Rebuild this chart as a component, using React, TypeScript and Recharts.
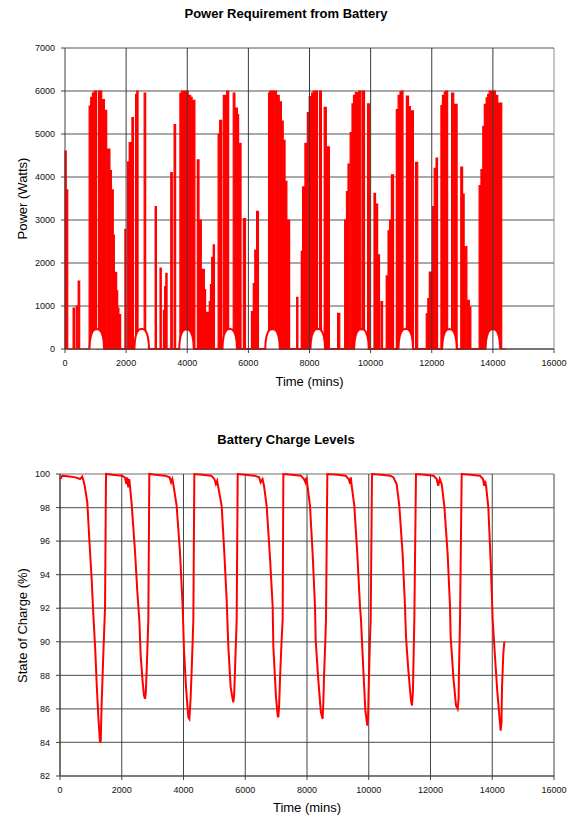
import React from 'react';
import { ComposedChart, Area, Line, XAxis, YAxis, CartesianGrid, ReferenceLine } from 'recharts';

const timeTicks = [0, 2000, 4000, 6000, 8000, 10000, 12000, 14000, 16000];
const powerTicks = [0, 1000, 2000, 3000, 4000, 5000, 6000, 7000];
const socTicks = [82, 84, 86, 88, 90, 92, 94, 96, 98, 100];

// battery draw blocks: [start minute, end minute, watts]
const spikeBlocks: [number, number, number][] = [
  [0, 40, 4600], [40, 90, 3700],
  [265, 310, 950], [365, 415, 1000], [430, 480, 1580],
  [790, 840, 5650], [840, 895, 5850], [895, 955, 5950], [955, 1035, 6000], [1100, 1200, 6000], [1205, 1290, 5800], [1295, 1365, 5550], [1395, 1470, 4650], [1470, 1520, 4150], [1525, 1580, 3700], [1580, 1615, 2650], [1615, 1690, 1780], [1690, 1725, 1350], [1725, 1765, 950], [1765, 1820, 800],
  [1960, 1990, 2780],
  [2050, 2100, 4350], [2100, 2170, 4800], [2190, 2240, 5380], [2310, 2350, 5920], [2350, 2390, 6000], [2590, 2640, 5950],
  [2950, 2990, 3310], [3110, 3150, 1880], [3220, 3250, 900], [3260, 3300, 1450], [3300, 3340, 1760], [3460, 3510, 4100], [3570, 3620, 5220],
  [3760, 3820, 5950], [3820, 3900, 6000], [3920, 4030, 6000], [4040, 4110, 5900], [4110, 4160, 5850], [4160, 4250, 5780],
  [4330, 4385, 4400], [4410, 4460, 3000], [4470, 4560, 1850], [4560, 4600, 1380], [4630, 4720, 850], [4720, 4760, 1100], [4760, 4800, 1500], [4800, 4850, 2130], [4850, 4890, 2420],
  [5010, 5060, 5000], [5060, 5125, 5320], [5180, 5265, 5900], [5290, 5355, 6000], [5505, 5560, 5950], [5590, 5640, 5600], [5640, 5680, 5450], [5705, 5760, 4780], [5835, 5905, 3030],
  [6100, 6160, 870], [6160, 6210, 1520], [6210, 6270, 2300], [6270, 6330, 3200],
  [6660, 6700, 5950], [6700, 6760, 6000], [6770, 6840, 6000], [6845, 6920, 6000], [6920, 7010, 5900], [7010, 7080, 5750], [7080, 7140, 5300], [7140, 7200, 4850], [7200, 7260, 3900], [7260, 7350, 3000],
  [7580, 7620, 1200], [7730, 7770, 2270],
  [7775, 7850, 3770], [7850, 7930, 4780], [7930, 7990, 5500], [7990, 8070, 5870], [8070, 8120, 5950], [8120, 8190, 6000], [8200, 8260, 6000], [8330, 8390, 6000], [8480, 8550, 5620], [8590, 8650, 4700],
  [8920, 8990, 830],
  [9150, 9210, 3000], [9210, 9260, 3660], [9260, 9320, 4300], [9330, 9390, 5030], [9390, 9440, 5700], [9440, 9500, 5900], [9500, 9590, 5960], [9610, 9680, 6000], [9730, 9800, 6000], [9900, 9970, 5700],
  [10110, 10160, 3620], [10160, 10230, 3370], [10230, 10290, 2190], [10340, 10390, 1100],
  [10510, 10570, 1700], [10570, 10620, 2750], [10620, 10680, 3000], [10680, 10750, 4050], [10840, 10900, 5570], [10900, 10960, 5900], [10960, 11000, 5975], [11000, 11060, 6000], [11170, 11240, 5880], [11240, 11300, 5640], [11340, 11400, 5540], [11470, 11540, 4340],
  [11820, 11870, 820], [11870, 11920, 1170], [11920, 12030, 1790], [12030, 12080, 3310], [12080, 12140, 4200], [12140, 12190, 4440], [12300, 12350, 5660], [12350, 12410, 5900], [12410, 12460, 5975], [12460, 12520, 6000], [12650, 12720, 5950], [12760, 12830, 5690], [12950, 13010, 4230], [13010, 13060, 3600], [13090, 13150, 2380], [13180, 13230, 1130], [13230, 13280, 975],
  [13550, 13610, 3800], [13610, 13670, 4170], [13670, 13720, 5180], [13720, 13780, 5690], [13780, 13830, 5840], [13830, 13880, 5920], [13880, 13960, 6000], [13970, 14080, 6000], [14080, 14160, 5900], [14160, 14290, 5720],
];
const powerEndMinute = 14430;

// daytime hump arcs (minutes / watts)
const arcTimes: number[][] = [
  [800, 815, 845, 890, 950, 1040, 1130, 1190, 1235, 1265, 1280],
  [2270, 2285, 2315, 2360, 2420, 2510, 2600, 2660, 2705, 2735, 2750],
  [3735, 3750, 3780, 3825, 3885, 3975, 4065, 4125, 4170, 4200, 4215],
  [5150, 5165, 5195, 5240, 5300, 5390, 5480, 5540, 5585, 5615, 5630],
  [6550, 6565, 6595, 6640, 6700, 6790, 6880, 6940, 6985, 7015, 7030],
  [8030, 8045, 8075, 8120, 8180, 8270, 8360, 8420, 8465, 8495, 8510],
  [9460, 9475, 9505, 9550, 9610, 9700, 9790, 9850, 9895, 9925, 9940],
  [10910, 10925, 10955, 11000, 11060, 11150, 11240, 11300, 11345, 11375, 11390],
  [12340, 12355, 12385, 12430, 12490, 12580, 12670, 12730, 12775, 12805, 12820],
  [13760, 13775, 13805, 13850, 13910, 14000, 14090, 14150, 14195, 14225, 14240],
];
const arcWatts: number[][] = [
  [0, 170, 300, 390, 445, 465, 445, 390, 300, 170, 0],
  [0, 170, 305, 395, 450, 470, 450, 395, 305, 170, 0],
  [0, 165, 295, 385, 440, 460, 440, 385, 295, 165, 0],
  [0, 170, 305, 395, 450, 470, 450, 395, 305, 170, 0],
  [0, 170, 300, 390, 445, 465, 445, 390, 300, 170, 0],
  [0, 170, 305, 395, 450, 470, 450, 395, 305, 170, 0],
  [0, 170, 300, 390, 445, 465, 445, 390, 300, 170, 0],
  [0, 170, 305, 395, 450, 470, 450, 395, 305, 170, 0],
  [0, 170, 300, 390, 445, 465, 445, 390, 300, 170, 0],
  [0, 170, 300, 390, 445, 465, 445, 390, 300, 170, 0],
];

// state of charge: [minute, percent]
const socPoints: [number, number][] = [
  [0, 99.7], [80, 99.9], [300, 99.85], [500, 99.8], [650, 99.7], [720, 99.85], [760, 99.6], [800, 99.3], [885, 98.3], [950, 96.1], [1026, 93.7], [1080, 91.6], [1140, 89.6], [1188, 87.5], [1242, 85.5], [1296, 84.0], [1320, 84.1], [1350, 86.4], [1404, 89.3], [1458, 92.0], [1490, 100],
  [1700, 99.95], [2000, 99.9], [2100, 99.8], [2150, 99.4], [2180, 99.8], [2210, 99.2], [2245, 99.7], [2280, 99.0], [2321, 98.2], [2429, 95.4], [2504, 93.0], [2569, 91.3], [2613, 89.2], [2677, 87.6], [2720, 86.8], [2753, 86.6], [2780, 87.0], [2807, 88.3], [2861, 91.3], [2893, 100],
  [3100, 99.95], [3400, 99.9], [3550, 99.8], [3600, 99.5], [3640, 99.7], [3670, 99.4], [3778, 98.1], [3887, 95.3], [3973, 92.1], [4016, 89.5], [4081, 87.3], [4156, 85.5], [4190, 85.4], [4230, 86.6], [4265, 88.3], [4319, 91.3], [4351, 100],
  [4600, 99.95], [4900, 99.9], [5000, 99.7], [5050, 99.4], [5090, 99.6], [5128, 99.2], [5236, 98.1], [5322, 95.3], [5398, 92.5], [5452, 89.7], [5528, 87.3], [5590, 86.6], [5614, 86.4], [5640, 86.8], [5668, 88.3], [5722, 91.3], [5755, 100],
  [6000, 99.95], [6300, 99.9], [6450, 99.8], [6500, 99.5], [6560, 99.7], [6607, 99.3], [6693, 98.1], [6802, 95.0], [6888, 92.1], [6910, 89.7], [6996, 86.7], [7050, 85.6], [7072, 85.5], [7100, 86.3], [7126, 87.8], [7180, 90.2], [7212, 91.3], [7234, 100],
  [7500, 99.95], [7800, 99.9], [7900, 99.7], [7950, 99.5], [7980, 99.8], [8010, 99.4], [8097, 98.1], [8184, 95.2], [8259, 92.1], [8281, 90.1], [8367, 87.7], [8450, 85.8], [8507, 85.4], [8530, 86.4], [8551, 87.9], [8594, 90.1], [8615, 91.3], [8659, 100],
  [9000, 99.95], [9250, 99.9], [9350, 99.7], [9400, 99.4], [9420, 99.8], [9447, 99.3], [9533, 98.1], [9630, 95.2], [9717, 92.1], [9749, 91.3], [9825, 88.3], [9890, 85.9], [9954, 85.0], [9980, 85.6], [9998, 87.3], [10040, 90.2], [10063, 91.3], [10105, 100],
  [10400, 99.95], [10700, 99.9], [10800, 99.8], [10850, 99.6], [10903, 99.4], [10990, 98.1], [11098, 95.2], [11174, 92.1], [11206, 90.3], [11282, 88.3], [11368, 86.5], [11401, 86.2], [11430, 87.0], [11444, 88.3], [11476, 91.3], [11530, 100],
  [11800, 99.95], [12100, 99.9], [12200, 99.7], [12250, 99.3], [12300, 99.7], [12362, 99.4], [12448, 98.1], [12556, 95.2], [12632, 92.1], [12653, 90.3], [12740, 87.9], [12826, 86.2], [12880, 86.0], [12910, 86.6], [12923, 88.3], [12956, 91.3], [13010, 100],
  [13300, 99.95], [13600, 99.9], [13700, 99.7], [13740, 99.3], [13765, 99.6], [13800, 99.3], [13873, 98.0], [13949, 94.8], [14014, 91.3], [14089, 89.1], [14165, 87.0], [14230, 85.6], [14272, 84.7], [14300, 85.2], [14316, 87.3], [14359, 89.3], [14391, 90.0],
];

// build library-ready tables from the read values
const spikeData: { t: number; w: number }[] = [];
spikeBlocks.forEach(([s, e, w], i) => {
  const prevEnd = i > 0 ? spikeBlocks[i - 1][1] : -1;
  if (s > prevEnd) spikeData.push({ t: s, w: 0 });
  spikeData.push({ t: s, w });
  spikeData.push({ t: e, w });
  const next = spikeBlocks[i + 1];
  if (!next || next[0] > e) spikeData.push({ t: e, w: 0 });
});
spikeData.push({ t: powerEndMinute, w: 0 });

const arcData: { t: number; w: number }[] = [];
arcTimes.forEach((times, i) => {
  times.forEach((t, j) => arcData.push({ t, w: arcWatts[i][j] }));
});

const socData = socPoints.map(([t, soc]) => ({ t, soc }));

const FONT = '"Liberation Sans", Arial, Helvetica, sans-serif';
const tickStyle = { fontSize: 9, fill: '#111', fontFamily: FONT };

const titleStyle: React.CSSProperties = {
  position: 'absolute', left: 0, width: 572, textAlign: 'center',
  fontSize: 13, fontWeight: 'bold', lineHeight: '13px', color: '#000', fontFamily: FONT,
};
const axisLabelStyle: React.CSSProperties = {
  position: 'absolute', textAlign: 'center', fontSize: 13, lineHeight: '13px', color: '#000', fontFamily: FONT,
};

export default function App() {
  return (
    <div style={{ position: 'absolute', left: 0, top: 0, width: 572, height: 819, background: '#fff', fontFamily: FONT }}>
      <div style={{ ...titleStyle, top: 7 }}>Power Requirement from Battery</div>
      <div style={{ position: 'absolute', left: 0, top: 0 }}>
        <ComposedChart width={572} height={400} margin={{ top: 48, right: 18, bottom: 21, left: 0 }}>
          <CartesianGrid vertical={false} stroke="#8c8c8c" strokeWidth={1.5} />
          <XAxis type="number" dataKey="t" domain={[0, 16000]} ticks={timeTicks} interval={0}
            tickSize={4} tickMargin={7} height={30} tick={tickStyle} stroke="#404040" />
          <YAxis type="number" domain={[0, 7000]} ticks={powerTicks} interval={0} width={65}
            tickSize={4} tickMargin={6} tick={tickStyle} stroke="#404040" />
          <Area data={spikeData} dataKey="w" type="linear" stroke="#ff0000" strokeWidth={1.2}
            fill="#ff0000" fillOpacity={1} dot={false} activeDot={false} isAnimationActive={false} />
          <Area data={arcData} dataKey="w" type="linear" stroke="#ff0000" strokeWidth={2}
            fill="#ffffff" fillOpacity={1} dot={false} activeDot={false} isAnimationActive={false} />
          {timeTicks.slice(1).map((x) => (
            <ReferenceLine key={x} x={x} stroke={x === 16000 ? '#8c8c8c' : '#3a3a3a'} strokeWidth={1} />
          ))}
        </ComposedChart>
      </div>
      <div style={{ ...axisLabelStyle, left: 65, width: 489, top: 375 }}>Time (mins)</div>
      <div style={{ ...axisLabelStyle, left: 22 - 100, width: 200, top: 198 - 6.5, height: 13, transform: 'rotate(-90deg)' }}>Power (Watts)</div>

      <div style={{ ...titleStyle, top: 433 }}>Battery Charge Levels</div>
      <div style={{ position: 'absolute', left: 0, top: 420 }}>
        <ComposedChart width={572} height={399} margin={{ top: 54, right: 18, bottom: 13, left: 0 }}>
          <CartesianGrid vertical={false} stroke="#6e6e6e" strokeWidth={1.2} />
          <CartesianGrid horizontal={false} stroke="#444" strokeWidth={1} />
          <XAxis type="number" dataKey="t" domain={[0, 16000]} ticks={timeTicks} interval={0}
            tickSize={4} tickMargin={7} height={30} tick={tickStyle} stroke="#404040" />
          <YAxis type="number" domain={[82, 100]} ticks={socTicks} interval={0} width={60}
            tickSize={4} tickMargin={6} tick={tickStyle} stroke="#404040" />
          <Line data={socData} dataKey="soc" type="linear" stroke="#ff0000" strokeWidth={2}
            dot={false} activeDot={false} isAnimationActive={false} />
        </ComposedChart>
      </div>
      <div style={{ ...axisLabelStyle, left: 60, width: 494, top: 801 }}>Time (mins)</div>
      <div style={{ ...axisLabelStyle, left: 22 - 100, width: 200, top: 625 - 6.5, height: 13, transform: 'rotate(-90deg)' }}>State of Charge (%)</div>
    </div>
  );
}
